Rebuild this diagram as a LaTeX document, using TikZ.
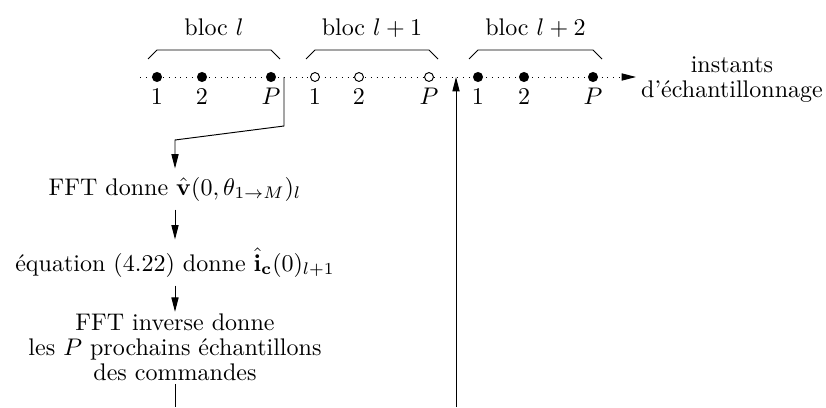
\documentclass[tikz,border=0pt]{standalone}
\usetikzlibrary{arrows.meta,calc}
\begin{document}
\begin{tikzpicture}[
  x=0.416pt, y=-0.416pt,
  fulldot/.style={circle, fill, inner sep=0pt, minimum size=4.2pt},
  opendot/.style={circle, draw, fill=white, inner sep=0pt, minimum size=3.7pt},
  txt/.style={align=center, font=\fontsize{10}{10.2}\selectfont},
  arr/.style={-{Triangle[length=6pt,width=3pt]}},
  brk/.style={line width=0.4pt}
]
\useasboundingbox (0,0) rectangle (826,407);

% time axis
\coordinate (axs) at (140,77);
\coordinate (axe) at (636,77);
\draw[dotted, arr] (axs) -- (axe);

\foreach \x/\n/\s [count=\i] in {157/1/fulldot, 202/2/fulldot, 271/P/fulldot,
  315/1/opendot, 359/2/opendot, 429/P/opendot,
  478/1/fulldot, 524/2/fulldot, 593/P/fulldot}
{
  \node[\s] (d\i) at (\x,77) {};
  \node[anchor=base] (n\i) at (\x,104) {$\n$};
}

% blocks
\foreach \a/\b/\lbl [count=\k] in {1/3/{bloc $l$}, 4/6/{bloc $l+1$}, 7/9/{bloc $l+2$}}
{
  \draw[brk] ($(d\a)+(-9,-18)$) -- ($(d\a)+(0,-27)$) -- ($(d\b)+(0,-27)$) -- ($(d\b)+(9,-18)$);
  \node[anchor=base] (bloc\k) at ($(d\a)!0.5!(d\b)+(0,-42)$) {\lbl};
}

% base of a multi-line node = last line
\node[txt, anchor=base] (inst) at (732,97) {instants\\d'échantillonnage};

% feedback
\coordinate (cut) at (284,77);
\coordinate (kneeA) at (284,126);
\coordinate (kneeB) at (175,140);
\node[anchor=base] (fftv) at (175,195) {FFT donne $\hat{\mathbf{v}}(0,\theta_{1\rightarrow M})_l$};
\node[anchor=base] (eq) at (175,271) {équation (4.22) donne $\hat{\mathbf{i}}_{\mathbf{c}}(0)_{l+1}$};
\node[txt, anchor=base] (ifft) at (175,380) {FFT inverse donne\\les $P$ prochains échantillons\\des commandes};
\coordinate (outl) at (175,407);
\coordinate (inr) at (456,407);
\coordinate (hit) at (456,77);

\draw[arr] (cut) -- (kneeA) -- (kneeB) -- (fftv);
\draw[arr] (fftv) -- (eq);
\draw[arr, shorten >=-2.5pt] (eq) -- (ifft);
\draw[shorten <=-2pt] (ifft) -- (outl);
\draw[arr] (inr) -- (hit);
\end{tikzpicture}
\end{document}
